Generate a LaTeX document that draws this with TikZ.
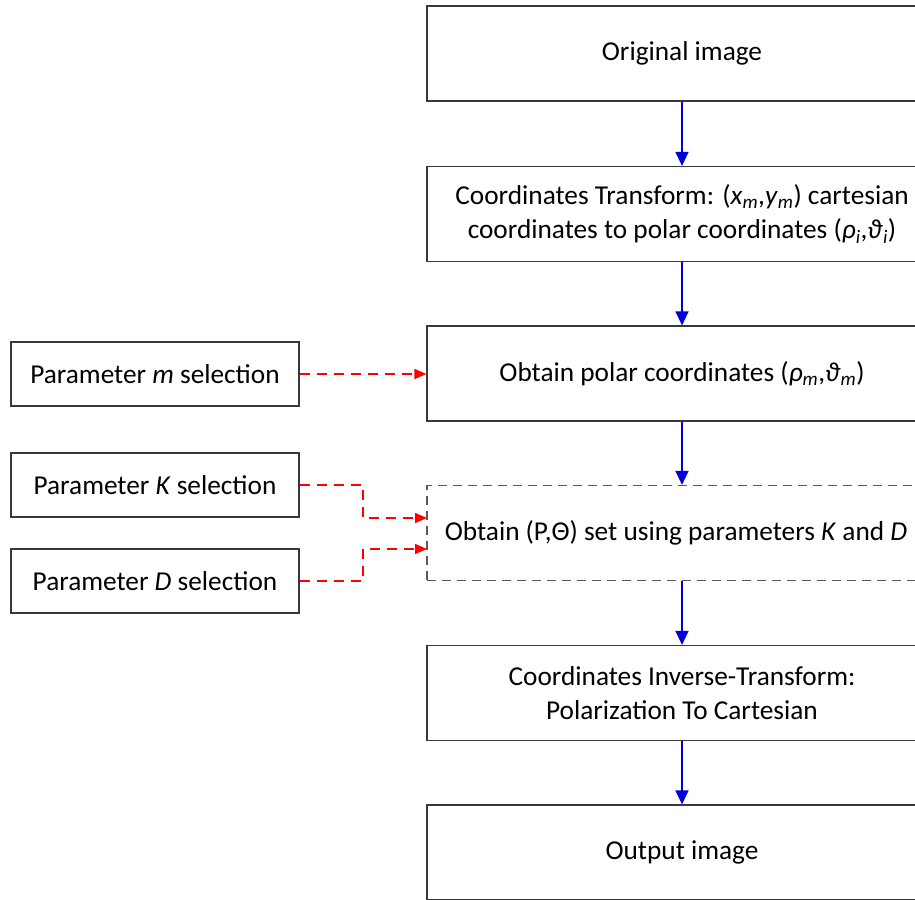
\documentclass[tikz,border=0pt]{standalone}
\usepackage{fontspec}
\setmainfont{Carlito}
\usetikzlibrary{arrows.meta}
\definecolor{flowblue}{RGB}{0,0,220}
\definecolor{parred}{RGB}{255,0,0}
\begin{document}
\begin{tikzpicture}[x=1pt,y=-1pt,
  txt/.style={font=\fontsize{27.3}{34}\selectfont},
  mainbox/.style={draw=black!78, line width=1.2pt, minimum width=510pt, minimum height=95pt, inner sep=0pt, align=center, txt},
  dashbox/.style={mainbox, draw=black!65, dash pattern=on 9pt off 6pt},
  parbox/.style={draw=black!78, line width=1.2pt, minimum width=288pt, minimum height=64pt, inner sep=0pt, align=center, txt},
  flow/.style={draw=flowblue, line width=1.4pt, -{Triangle[length=14pt,width=13pt]}},
  param/.style={draw=parred, line width=1.5pt, dash pattern=on 10pt off 7pt, -{Triangle[length=12pt,width=10pt]}}
]
\useasboundingbox (0,0) rectangle (915,899);
\clip (0,0) rectangle (915,899);
\node[mainbox] (n1) at (682,53.5) {Original image};
\node[mainbox] (n2) at (682,214) {Coordinates Transform: (\textit{x}\textsubscript{\textit{m}},\textit{y}\textsubscript{\textit{m}}) cartesian\\coordinates to polar coordinates (\textit{ρ}\textsubscript{\textit{i}},\textit{ϑ}\textsubscript{\textit{i}})};
\node[mainbox] (n3) at (682,373.5) {Obtain polar coordinates (\textit{ρ}\textsubscript{\textit{m}},\textit{ϑ}\textsubscript{\textit{m}})};
\node[dashbox] (n4) at (682,533) {Obtain (P,Θ) set using parameters \textit{K} and \textit{D}\hspace*{12pt}};
\node[mainbox] (n5) at (682,693) {Coordinates Inverse-Transform:\\Polarization To Cartesian};
\node[mainbox] (n6) at (682,852.5) {Output image};
\node[parbox] (pm) at (155,374) {Parameter \textit{m} selection};
\node[parbox] (pk) at (155,485) {Parameter \textit{K} selection};
\node[parbox] (pd) at (155,581) {Parameter \textit{D} selection};
\coordinate (kc) at (363,485);
\coordinate (dc) at (363,581);
\coordinate (kin) at (427,518);
\coordinate (din) at (427,549);
\draw[flow] (n1) -- (n2);
\draw[flow] (n2) -- (n3);
\draw[flow] (n3) -- (n4);
\draw[flow] (n4) -- (n5);
\draw[flow] (n5) -- (n6);
\draw[param] (pm.east) -- (n3.west |- pm.east);
\draw[param] (pk.east) -- (kc) |- (kin);
\draw[param] (pd.east) -- (dc) |- (din);
\end{tikzpicture}
\end{document}
